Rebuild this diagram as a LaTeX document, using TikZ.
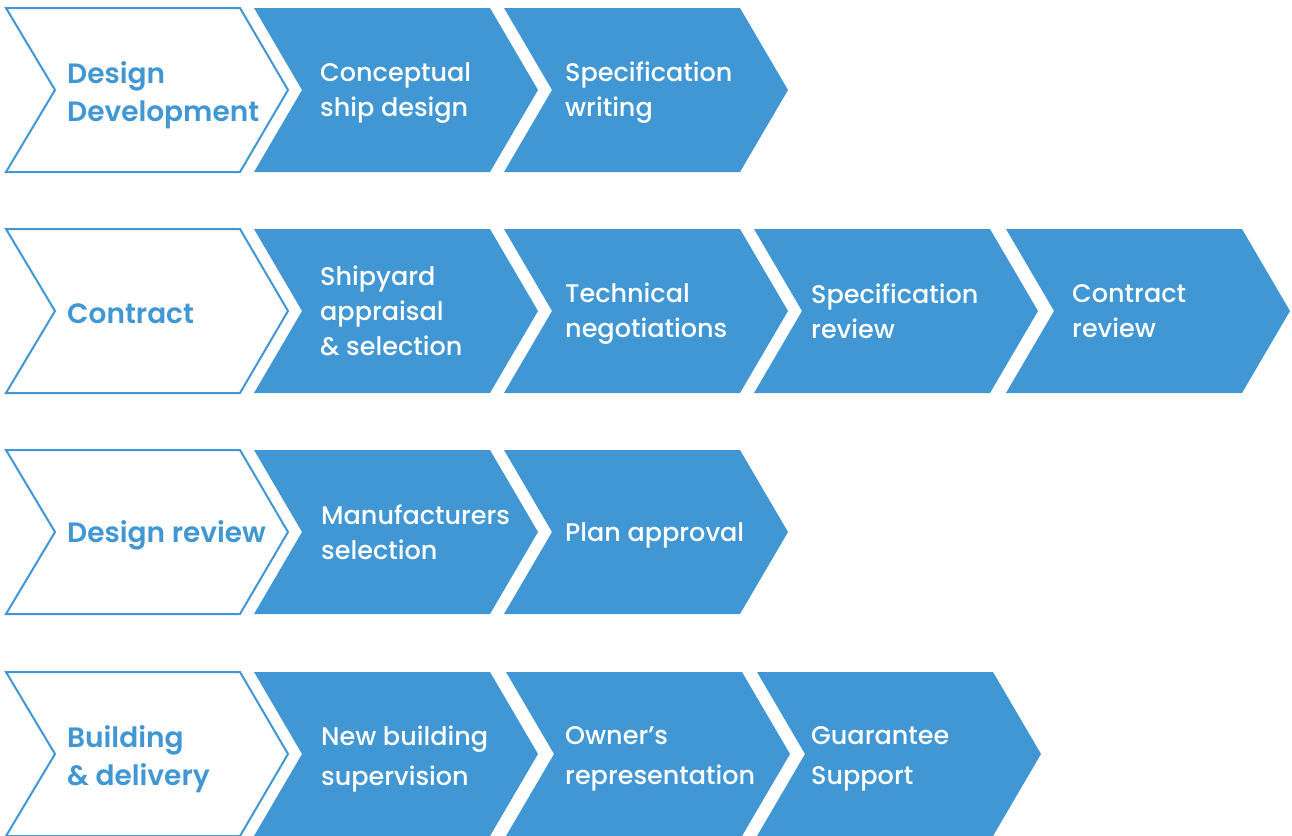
\documentclass[tikz,border=0pt]{standalone}
\usepackage{fontspec}
\setmainfont{Poppins}[UprightFont=* Medium, BoldFont=* SemiBold]
\definecolor{cblue}{RGB}{64,151,211}
\tikzset{
  titletext/.style={anchor=west, align=left, text=cblue, font=\fontsize{28}{38}\selectfont\bfseries, inner sep=0pt},
  steptext/.style={anchor=west, align=left, text=white, font=\fontsize{25.5}{35}\selectfont, inner sep=0pt},
  widestep/.style={font=\fontsize{25.5}{40}\selectfont},
  outlinechev/.style={draw=cblue, line width=2pt, fill=white, line join=miter},
  bluechev/.style={fill=cblue}
}
\newcommand{\whitechev}[2]{% x, top y
  \draw[outlinechev] (#1,#2) -- ++(234,0) -- ++(48,82) -- ++(-48,82) -- ++(-234,0) -- ++(49,-82) -- cycle;}
\newcommand{\bluechevron}[2]{%
  \fill[bluechev] (#1,#2) -- ++(236,0) -- ++(48,82) -- ++(-48,82) -- ++(-236,0) -- ++(48,-82) -- cycle;}
\begin{document}
\begin{tikzpicture}[x=1pt,y=-1pt]
\useasboundingbox (0,0) rectangle (1292,835);
% Row 1
\whitechev{6}{8}
\bluechevron{254}{8}
\bluechevron{504}{8}
\node[titletext] (t1) at (67,95) {Design\\Development};
\node[steptext] (s11) at (320,93) {Conceptual\\ship design};
\node[steptext] (s12) at (565,93) {Specification\\writing};
% Row 2
\whitechev{6}{229}
\bluechevron{254}{229}
\bluechevron{504}{229}
\bluechevron{754}{229}
\bluechevron{1006}{229}
\node[titletext] (t2) at (67,314) {Contract};
\node[steptext] (s21) at (320,311) {Shipyard\\appraisal\\\& selection};
\node[steptext] (s22) at (565,314) {Technical\\negotiations};
\node[steptext] (s23) at (811,311) {Specification\\review};
\node[steptext] (s24) at (1072,311) {Contract\\review};
% Row 3
\whitechev{6}{450}
\bluechevron{254}{450}
\bluechevron{504}{450}
\node[titletext] (t3) at (67,535) {Design review};
\node[steptext] (s31) at (321,532) {Manufacturers\\selection};
\node[steptext] (s32) at (565,535) {Plan approval};
% Row 4
\whitechev{6}{672}
\bluechevron{254}{672}
\bluechevron{506}{672}
\bluechevron{757}{672}
\node[titletext] (t4) at (67,759) {Building\\\& delivery};
\node[steptext,widestep] (s41) at (321,759) {New building\\supervision};
\node[steptext,widestep] (s42) at (565,759) {Owner’s\\representation};
\node[steptext,widestep] (s43) at (811,759) {Guarantee\\Support};
\end{tikzpicture}
\end{document}
